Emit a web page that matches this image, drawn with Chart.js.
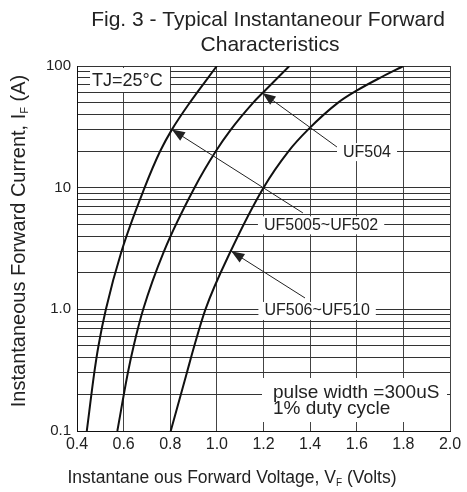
<!DOCTYPE html>
<html>
<head>
<meta charset="utf-8">
<script src="https://cdn.jsdelivr.net/npm/chart.js@4.4.0/dist/chart.umd.min.js"></script>
<style>
  html, body { margin: 0; padding: 0; background: #fff; }
</style>
</head>
<body>
<canvas id="fwd-chart" width="467" height="492"></canvas>
<script>
// forward voltage (V) and forward current (A)
const vf_uf5005 = [0.442, 0.474, 0.492, 0.524, 0.591, 0.69, 0.757, 0.807, 0.884, 1.0];
const if_uf5005 = [0.1, 0.3, 0.5, 1, 3, 10, 20, 30, 50, 100];
const vf_uf504 = [0.573, 0.618, 0.643, 0.684, 0.773, 0.904, 0.996, 1.06, 1.156, 1.196, 1.311];
const if_uf504 = [0.1, 0.3, 0.5, 1, 3, 10, 20, 30, 50, 60, 100];
const vf_uf506 = [0.802, 0.871, 0.903, 0.951, 1.059, 1.2, 1.308, 1.391, 1.52, 1.601, 1.7, 1.8];
const if_uf506 = [0.1, 0.3, 0.5, 1, 3, 10, 20, 30, 50, 63, 80, 100];

const xTicks = [0.4, 0.6, 0.8, 1.0, 1.2, 1.4, 1.6, 1.8, 2.0];
const yMajor = [0.1, 1, 10, 100];
const yTickLabels = ['0.1', '1.0', '10', '100'];

const FONT = '"Liberation Sans", Arial, Helvetica, sans-serif';
const INK = '#222';

// grid lines at 1..9 of every decade
const yGrid = [];
for (const d of [0.1, 1, 10]) {
   for (let k = 1; k < 10; k++) yGrid.push(+(d * k).toFixed(2));
}
yGrid.push(100);

const toPoints = (xs, ys) => xs.map((x, i) => ({ x: x, y: ys[i] }));

// callouts: text position and arrow (tip on the curve) in data units
const callouts = [
   { text: 'UF504', x: 1.644, y: 19.6, tipX: 1.196, tipY: 60, tailX: 1.515, tailY: 21.6 },
   { text: 'UF5005~UF502', x: 1.447, y: 4.9, tipX: 0.807, tipY: 30, tailX: 1.369, tailY: 6.2 },
   { text: 'UF506~UF510', x: 1.43, y: 0.97, tipX: 1.062, tipY: 3, tailX: 1.378, tailY: 1.24 }
];

function drawParts(ctx, parts, cx, cy, size) {
   const subSize = Math.round(size * 0.55);
   let total = 0;
   parts.forEach(p => {
      ctx.font = (p.sub ? subSize : size) + 'px ' + FONT;
      p.w = ctx.measureText(p.t).width;
      total += p.w;
   });
   let x = cx - total / 2;
   ctx.textAlign = 'left';
   ctx.textBaseline = 'middle';
   parts.forEach(p => {
      ctx.font = (p.sub ? subSize : size) + 'px ' + FONT;
      ctx.fillText(p.t, x, p.sub ? cy + size * 0.28 : cy);
      x += p.w;
   });
}

function arrow(ctx, x1, y1, x2, y2) {
   ctx.beginPath();
   ctx.moveTo(x1, y1);
   ctx.lineTo(x2, y2);
   ctx.stroke();
   const a = Math.atan2(y2 - y1, x2 - x1);
   const len = 13, half = 5;
   ctx.beginPath();
   ctx.moveTo(x2, y2);
   ctx.lineTo(x2 - len * Math.cos(a) + half * Math.sin(a), y2 - len * Math.sin(a) - half * Math.cos(a));
   ctx.lineTo(x2 - len * Math.cos(a) - half * Math.sin(a), y2 - len * Math.sin(a) + half * Math.cos(a));
   ctx.closePath();
   ctx.fill();
}

const notesPlugin = {
   id: 'notes',
   beforeDatasetsDraw(chart) {
      const ctx = chart.ctx, a = chart.chartArea;
      const xs = chart.scales.x, ys = chart.scales.y;
      ctx.save();
      ctx.fillStyle = '#fff';
      // white boxes that break the grid
      ctx.fillRect(a.left + 13, a.top + 2, 80, 24);
      ctx.fillRect(a.left + 185, a.bottom - 53, 185, 44);
      ctx.font = '16px ' + FONT;
      callouts.forEach(c => {
         const w = ctx.measureText(c.text).width;
         ctx.fillRect(xs.getPixelForValue(c.x) - w / 2 - 6, ys.getPixelForValue(c.y) - 9, w + 12, 18);
      });
      ctx.restore();
   },
   afterDatasetsDraw(chart) {
      const ctx = chart.ctx, a = chart.chartArea;
      const xs = chart.scales.x, ys = chart.scales.y;
      ctx.save();
      ctx.fillStyle = INK;
      ctx.strokeStyle = INK;
      ctx.lineWidth = 1;
      ctx.textBaseline = 'middle';
      ctx.textAlign = 'center';
      ctx.font = '16px ' + FONT;
      callouts.forEach(c => {
         ctx.fillText(c.text, xs.getPixelForValue(c.x), ys.getPixelForValue(c.y));
         arrow(ctx, xs.getPixelForValue(c.tailX), ys.getPixelForValue(c.tailY),
               xs.getPixelForValue(c.tipX), ys.getPixelForValue(c.tipY));
      });
      ctx.textAlign = 'left';
      ctx.font = '18px ' + FONT;
      ctx.fillText('TJ=25\u00B0C', a.left + 15, a.top + 15);
      ctx.font = '19px ' + FONT;
      ctx.fillText('pulse width =300uS', a.left + 196, a.bottom - 38);
      ctx.fillText('1% duty cycle', a.left + 196, a.bottom - 22);
      ctx.restore();
   },
   afterDraw(chart) {
      const ctx = chart.ctx;
      ctx.save();
      ctx.fillStyle = INK;
      ctx.textAlign = 'center';
      ctx.textBaseline = 'middle';
      ctx.font = '21px ' + FONT;
      ctx.fillText('Fig. 3 - Typical Instantaneour Forward', 268, 20);
      ctx.fillText('Characteristics', 270, 45);
      drawParts(ctx, [{ t: 'Instantane ous Forward Voltage, V' }, { t: 'F', sub: true }, { t: ' (Volts)' }], 232, 478, 17.5);
      ctx.translate(19, 241);
      ctx.rotate(-Math.PI / 2);
      drawParts(ctx, [{ t: 'Instantaneous Forward Current, I' }, { t: 'F', sub: true }, { t: ' (A)' }], 0, 0, 20);
      ctx.restore();
   }
};

const curve = (pts) => ({
   data: pts,
   borderColor: '#111',
   borderWidth: 2,
   pointRadius: 0,
   fill: false,
   cubicInterpolationMode: 'monotone'
});

new Chart(document.getElementById('fwd-chart'), {
   type: 'line',
   data: {
      datasets: [
         curve(toPoints(vf_uf5005, if_uf5005)),
         curve(toPoints(vf_uf504, if_uf504)),
         curve(toPoints(vf_uf506, if_uf506))
      ]
   },
   options: {
      responsive: false,
      animation: false,
      layout: { padding: { top: 66, right: 17, left: 0, bottom: 0 } },
      plugins: {
         legend: { display: false },
         tooltip: { enabled: false },
         title: { display: false }
      },
      scales: {
         x: {
            type: 'linear',
            min: 0.4,
            max: 2.0,
            afterBuildTicks: s => { s.ticks = xTicks.map(v => ({ value: v })); },
            afterFit: s => { s.height = 61; },
            ticks: {
               callback: v => Number(v).toFixed(1),
               font: { family: FONT, size: 16 },
               color: INK,
               padding: 4,
               maxRotation: 0,
               autoSkip: false
            },
            grid: { color: '#444', lineWidth: 1, drawTicks: false },
            border: { color: '#111', width: 1 }
         },
         y: {
            type: 'logarithmic',
            min: 0.1,
            max: 100,
            afterBuildTicks: s => { s.ticks = yGrid.map(v => ({ value: v })); },
            afterFit: s => { s.width = 77; },
            ticks: {
               callback: v => {
                  const i = yMajor.findIndex(m => Math.abs(m - v) < 1e-6);
                  return i >= 0 ? yTickLabels[i] : '';
               },
               font: { family: FONT, size: 15 },
               color: INK,
               padding: 6,
               autoSkip: false
            },
            grid: { color: '#333', lineWidth: 1, drawTicks: false },
            border: { color: '#111', width: 1 }
         }
      }
   },
   plugins: [notesPlugin]
});
</script>
</body>
</html>
